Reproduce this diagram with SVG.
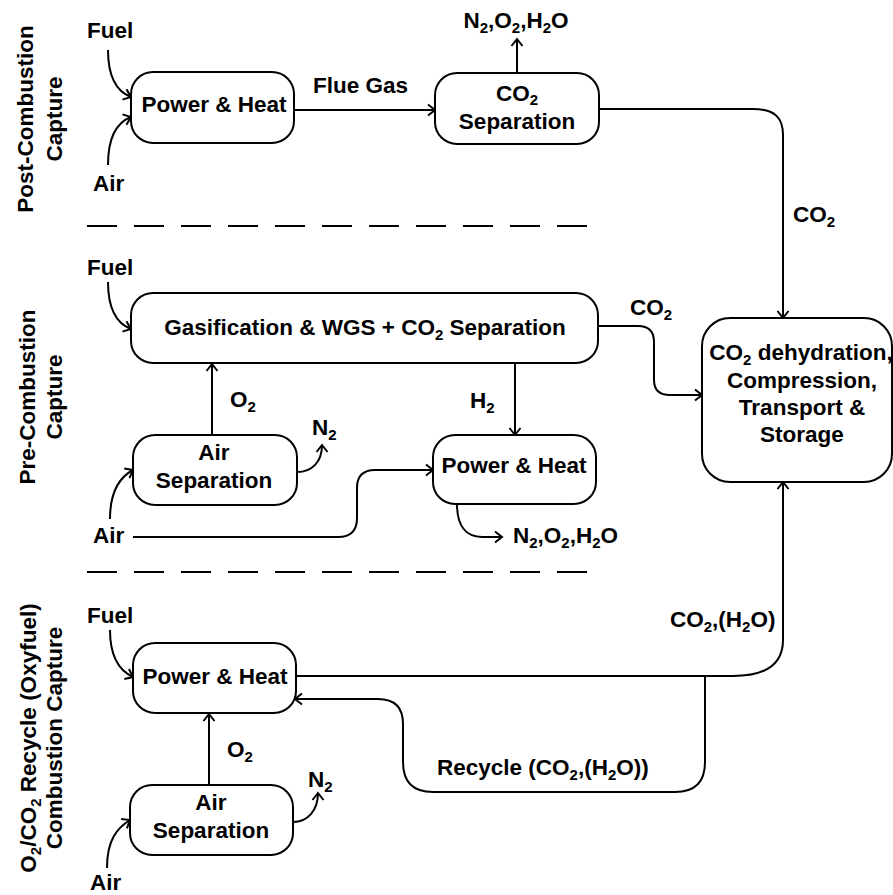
<svg xmlns="http://www.w3.org/2000/svg" width="893" height="895" viewBox="0 0 893 895">
<style>
text{font-family:"Liberation Sans",Arial,sans-serif;font-weight:bold;font-size:22.5px;fill:#000}
.m{text-anchor:middle}
.s{font-size:15px}
.box{fill:#fff;stroke:#000;stroke-width:2}
.c{fill:none;stroke:#000;stroke-width:2}
.a{marker-end:url(#arr)}
.dash{stroke:#000;stroke-width:2;stroke-dasharray:30 17}
</style>
<defs>
<marker id="arr" markerUnits="userSpaceOnUse" markerWidth="14" markerHeight="14" viewBox="-10 -7 12 14" refX="0" refY="0" orient="auto">
<path d="M-7,-5.5 L0,0 L-7,5.5" fill="none" stroke="#000" stroke-width="2"/>
</marker>
</defs>
<rect width="893" height="895" fill="#fff"/>

<g id="labels-sections">
<text class="m" transform="translate(33,119) rotate(-90)">Post-Combustion</text>
<text class="m" transform="translate(62,119) rotate(-90)">Capture</text>
<text class="m" transform="translate(35,397) rotate(-90)">Pre-Combustion</text>
<text class="m" transform="translate(62,397) rotate(-90)">Capture</text>
<text class="m" transform="translate(36,738) rotate(-90)">O<tspan class="s" dy="5">2</tspan><tspan dy="-5">/CO</tspan><tspan class="s" dy="5">2</tspan><tspan dy="-5"> Recycle (Oxyfuel)</tspan></text>
<text class="m" transform="translate(62,738) rotate(-90)">Combustion Capture</text>
</g>

<g id="dividers">
<line class="dash" x1="87" y1="226" x2="588" y2="226"/>
<line class="dash" x1="87" y1="572" x2="588" y2="572"/>
</g>

<g id="connectors">
<path class="c a" d="M108,50 C108,80 118,92 131,97"/>
<path class="c a" d="M108,165 C108,135 118,122 131,117"/>
<path class="c a" d="M294,110 H435"/>
<path class="c a" d="M517,73 V39"/>
<path class="c a" d="M599,109 H753 C775,109 783,118 783,135 V318"/>
<path class="c a" d="M108,282 C108,311 118,324 131,329"/>
<path class="c a" d="M212,435 V364"/>
<path class="c a" d="M297,472 C312,472 322,462 322,445"/>
<path class="c a" d="M110,519 C110,490 120,477 133,470"/>
<path class="c a" d="M133,537 H338 Q357,537 357,518 V488 Q357,470 375,470 H433"/>
<path class="c a" d="M515,363 V435"/>
<path class="c a" d="M457,504 C457,526 466,537 482,537 H502"/>
<path class="c a" d="M598,326 H638 Q654,326 654,342 V380 Q654,395 670,395 H702"/>
<path class="c a" d="M296,676 H733 C765,676 783,665 783,640 V482"/>
<path class="c a" d="M705,676 V762 Q705,792 675,792 H433 Q403,792 403,762 V724 Q403,699 378,699 H295"/>
<path class="c a" d="M110,630 C110,658 120,671 133,677"/>
<path class="c a" d="M209,785 V714"/>
<path class="c a" d="M293,822 C308,822 318,810 318,793"/>
<path class="c a" d="M107,868 C107,840 117,828 130,820"/>
</g>

<g id="connector-labels">
<text x="87" y="38">Fuel</text>
<text x="93" y="191">Air</text>
<text x="313" y="93">Flue Gas</text>
<text class="m" x="516" y="28">N<tspan class="s" dy="5">2</tspan><tspan dy="-5">,O</tspan><tspan class="s" dy="5">2</tspan><tspan dy="-5">,H</tspan><tspan class="s" dy="5">2</tspan><tspan dy="-5">O</tspan></text>
<text x="793" y="222">CO<tspan class="s" dy="5">2</tspan></text>
<text x="87" y="275">Fuel</text>
<text x="230" y="407">O<tspan class="s" dy="5">2</tspan></text>
<text x="312" y="435">N<tspan class="s" dy="5">2</tspan></text>
<text x="93" y="543">Air</text>
<text x="470" y="408">H<tspan class="s" dy="5">2</tspan></text>
<text x="513" y="543">N<tspan class="s" dy="5">2</tspan><tspan dy="-5">,O</tspan><tspan class="s" dy="5">2</tspan><tspan dy="-5">,H</tspan><tspan class="s" dy="5">2</tspan><tspan dy="-5">O</tspan></text>
<text x="630" y="315">CO<tspan class="s" dy="5">2</tspan></text>
<text x="87" y="623">Fuel</text>
<text x="670" y="627">CO<tspan class="s" dy="5">2</tspan><tspan dy="-5">,(H</tspan><tspan class="s" dy="5">2</tspan><tspan dy="-5">O)</tspan></text>
<text x="227" y="757">O<tspan class="s" dy="5">2</tspan></text>
<text x="308" y="787">N<tspan class="s" dy="5">2</tspan></text>
<text x="437" y="775">Recycle (CO<tspan class="s" dy="5">2</tspan><tspan dy="-5">,(H</tspan><tspan class="s" dy="5">2</tspan><tspan dy="-5">O))</tspan></text>
<text x="90" y="890">Air</text>
</g>

<g id="post-power-heat">
<rect class="box" x="131" y="72" width="163" height="71" rx="22"/>
<text class="m" x="214" y="112">Power &amp; Heat</text>
</g>
<g id="post-co2-separation">
<rect class="box" x="435" y="73" width="164" height="71" rx="22"/>
<text class="m" x="517" y="101">CO<tspan class="s" dy="4">2</tspan></text>
<text class="m" x="517" y="129">Separation</text>
</g>
<g id="pre-gasification">
<rect class="box" x="131" y="293" width="467" height="70" rx="22"/>
<text class="m" x="365" y="335">Gasification &amp; WGS + CO<tspan class="s" dy="5">2</tspan><tspan dy="-5"> Separation</tspan></text>
</g>
<g id="pre-air-separation">
<rect class="box" x="133" y="435" width="164" height="70" rx="22"/>
<text class="m" x="214" y="460">Air</text>
<text class="m" x="214" y="488">Separation</text>
</g>
<g id="pre-power-heat">
<rect class="box" x="433" y="435" width="163" height="69" rx="22"/>
<text class="m" x="514" y="473">Power &amp; Heat</text>
</g>
<g id="storage">
<rect class="box" x="702" y="318" width="190" height="164" rx="28"/>
<text class="m" x="801" y="360">CO<tspan class="s" dy="5">2</tspan><tspan dy="-5"> dehydration,</tspan></text>
<text class="m" x="802" y="388">Compression,</text>
<text class="m" x="802" y="415">Transport &amp;</text>
<text class="m" x="802" y="442">Storage</text>
</g>
<g id="oxy-power-heat">
<rect class="box" x="133" y="643" width="163" height="70" rx="22"/>
<text class="m" x="215" y="684">Power &amp; Heat</text>
</g>
<g id="oxy-air-separation">
<rect class="box" x="130" y="785" width="163" height="70" rx="22"/>
<text class="m" x="211" y="810">Air</text>
<text class="m" x="211" y="838">Separation</text>
</g>
</svg>
